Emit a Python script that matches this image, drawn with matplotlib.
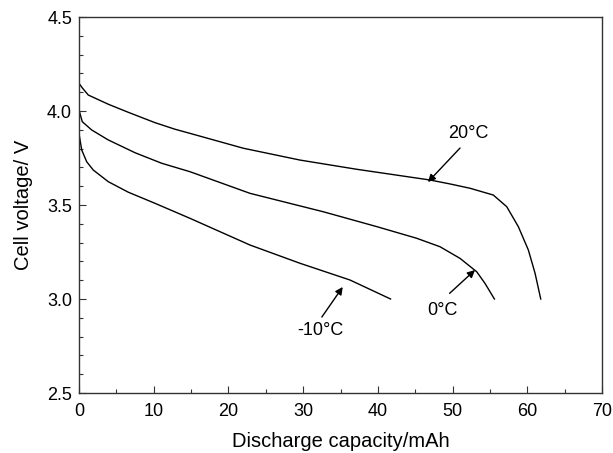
import matplotlib
matplotlib.use("Agg")
import matplotlib.pyplot as plt
from matplotlib.ticker import MultipleLocator

plt.rcParams['font.family'] = ['Liberation Sans', 'DejaVu Sans']

# 20 °C
x20 = [0.0, 0.5, 1.24, 3.92, 6.60, 10.17, 12.85, 14.86, 21.99, 29.58, 37.17, 46.98,
       49.66, 52.34, 55.45, 57.25, 58.80, 60.14, 61.04, 61.8]
v20 = [4.147, 4.12, 4.085, 4.036, 3.993, 3.938, 3.903, 3.881, 3.802, 3.739, 3.690, 3.633,
       3.612, 3.589, 3.553, 3.491, 3.385, 3.261, 3.137, 3.0]
# 0 °C
x0 = [0.0, 0.44, 1.70, 3.92, 7.50, 11.07, 14.86, 22.89, 32.70, 39.85, 45.20, 48.32,
      51.0, 53.23, 54.34, 55.6]
v0 = [4.005, 3.943, 3.899, 3.846, 3.778, 3.722, 3.677, 3.562, 3.464, 3.385, 3.323, 3.278,
      3.216, 3.145, 3.083, 3.0]
# -10 °C
xm10 = [0.0, 0.36, 1.03, 1.91, 3.92, 6.60, 10.17, 14.86, 22.89, 29.58, 36.27, 41.7]
vm10 = [3.88, 3.793, 3.730, 3.686, 3.624, 3.568, 3.509, 3.429, 3.287, 3.190, 3.101, 3.0]

labels = ['20°C', '0°C', '-10°C']
label_xy = [(52.1, 3.878), (48.7, 2.94), (32.3, 2.835)]
arrow_tail = [(51.0, 3.803), (49.6, 3.03), (32.5, 2.904)]
arrow_head = [(46.7, 3.622), (53.0, 3.154), (35.3, 3.064)]

fig = plt.figure(figsize=(6.13, 4.53), dpi=100)
ax = fig.add_axes([79/613, 1 - 393/453, (602-79)/613, (393-17)/453])

for xs, vs in [(x20, v20), (x0, v0), (xm10, vm10)]:
    ax.plot(xs, vs, color='black', lw=1.0)

for lab, (tx, ty) in zip(labels, label_xy):
    ax.text(tx, ty, lab, ha='center', va='center', fontsize=13)
for (hx, hy), (tx, ty) in zip(arrow_head, arrow_tail):
    ax.annotate('', xy=(hx, hy), xytext=(tx, ty),
                arrowprops=dict(arrowstyle='-|>', color='black', lw=1.0,
                                mutation_scale=11, shrinkA=0, shrinkB=0))

ax.set_xlim(0, 70)
ax.set_ylim(2.5, 4.5)
ax.xaxis.set_major_locator(MultipleLocator(10))
ax.xaxis.set_minor_locator(MultipleLocator(5))
ax.yaxis.set_major_locator(MultipleLocator(0.5))
ax.yaxis.set_minor_locator(MultipleLocator(0.1))
ax.set_yticklabels([f'{v:.1f}' for v in ax.get_yticks()])
ax.tick_params(which='both', direction='in', labelsize=13, width=0.8, color='#333333')
ax.tick_params(which='major', length=5)
ax.tick_params(which='minor', length=3)
ax.tick_params(axis='x', pad=7)
ax.tick_params(axis='y', pad=5)
for s in ax.spines.values():
    s.set_linewidth(1.0)
    s.set_color('#333333')

fig.text((79 + 602) / 2 / 613, 1 - 447 / 453, 'Discharge capacity/mAh',
         ha='center', va='baseline', fontsize=14.5)
ax.set_ylabel('Cell voltage/ V', fontsize=14.5, labelpad=10)

fig.savefig('out.png', dpi=100)
